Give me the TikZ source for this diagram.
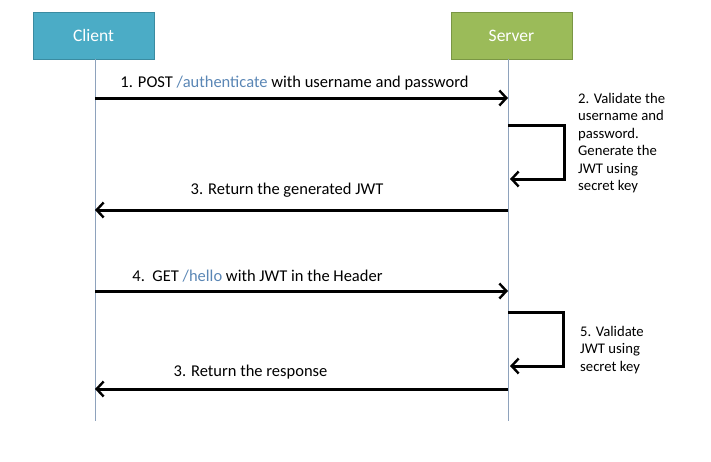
\documentclass[tikz,border=0pt]{standalone}
\usepackage{fontspec}
\setmainfont{Carlito}
\usetikzlibrary{arrows.meta}
\definecolor{clientfill}{HTML}{4BACC6}
\definecolor{clientdraw}{HTML}{3A8BA1}
\definecolor{serverfill}{HTML}{9BBB59}
\definecolor{serverdraw}{HTML}{7A9644}
\definecolor{lifeline}{HTML}{8EA2BC}
\definecolor{linkblue}{HTML}{5A86B5}
\tikzset{
  actor/.style={minimum width=121pt, minimum height=47pt, inner sep=0pt, line width=1pt, text=white, font=\fontsize{17.5}{20}\selectfont},
  life/.style={draw=lifeline, line width=0.8pt},
  msg/.style={line width=3pt, -{Straight Barb[length=7pt,width=15pt,line width=2.4pt]}},
  lbl/.style={font=\fontsize{16.5}{19}\selectfont, inner sep=0pt},
  note/.style={font=\fontsize{14.7}{17.5}\selectfont, align=left, inner sep=0pt, anchor=north west}
}
\begin{document}
\begin{tikzpicture}[x=1pt,y=-1pt]
\useasboundingbox (0,0) rectangle (711,461);
\node[actor, fill=clientfill, draw=clientdraw] (client) at (93.5,35.5) {Client};
\node[actor, fill=serverfill, draw=serverdraw] (server) at (511.5,35.5) {Server};
\coordinate (cend) at (95,421);
\coordinate (send) at (508,421);
\draw[life] (95,59) -- (cend);
\draw[life] (508,59) -- (send);
% message 1
\coordinate (m1a) at (95,98); \coordinate (m1b) at (508,98);
\draw[msg] (m1a) -- (m1b);
\node[lbl] (l1) at (294.5,83) {1. POST \textcolor{linkblue}{/authenticate} with username and password};
% loop 1
\coordinate (s1a) at (508,125); \coordinate (s1b) at (564,125);
\coordinate (s1c) at (564,179); \coordinate (s1d) at (510,179);
\draw[msg] (s1a) -- (s1b) -- (s1c) -- (s1d);
\node[note] (n2) at (578,93) {2. Validate the\\username and\\password.\\Generate the\\JWT using\\secret key};
% message 3
\coordinate (m3a) at (508,210); \coordinate (m3b) at (95,210);
\draw[msg] (m3a) -- (m3b);
\node[lbl] (l3) at (287,190) {3. Return the generated JWT};
% message 4
\coordinate (m4a) at (95,291); \coordinate (m4b) at (508,291);
\draw[msg] (m4a) -- (m4b);
\node[lbl] (l4) at (257.5,276) {4.\ \ GET \textcolor{linkblue}{/hello} with JWT in the Header};
% loop 2
\coordinate (s2a) at (508,312); \coordinate (s2b) at (563,312);
\coordinate (s2c) at (563,366); \coordinate (s2d) at (510,366);
\draw[msg] (s2a) -- (s2b) -- (s2c) -- (s2d);
\node[note] (n5) at (580,326) {5. Validate\\JWT using\\secret key};
% message last
\coordinate (m5a) at (508,389); \coordinate (m5b) at (95,389);
\draw[msg] (m5a) -- (m5b);
\node[lbl] (l5) at (250.5,372) {3. Return the response};
\end{tikzpicture}
\end{document}
